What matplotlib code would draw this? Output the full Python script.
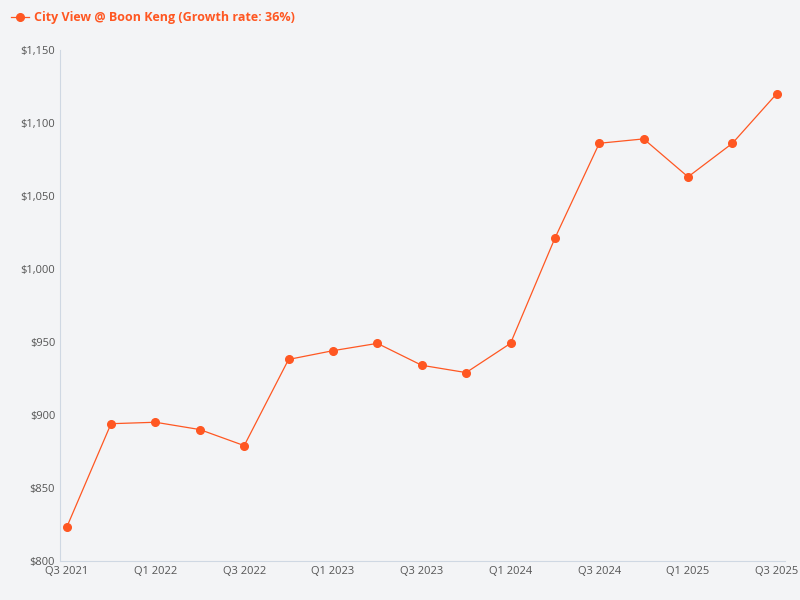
import matplotlib
matplotlib.use("Agg")
import matplotlib.pyplot as plt
from matplotlib.ticker import FuncFormatter

plt.rcParams['font.family'] = ['Open Sans', 'DejaVu Sans']

quarters = ["Q3 2021", "Q4 2021", "Q1 2022", "Q2 2022", "Q3 2022", "Q4 2022",
            "Q1 2023", "Q2 2023", "Q3 2023", "Q4 2023", "Q1 2024", "Q2 2024",
            "Q3 2024", "Q4 2024", "Q1 2025", "Q2 2025", "Q3 2025"]
prices = [823, 894, 895, 890, 879, 938, 944, 949, 934, 929, 949, 1021,
          1086, 1089, 1063, 1086, 1120]

color = "#ff5722"
bg = "#f3f4f6"

fig = plt.figure(figsize=(8, 6), dpi=100, facecolor=bg)
ax = fig.add_axes([0.075, 0.065, 0.906, 0.852], facecolor=bg)

x = list(range(len(quarters)))
ax.plot(x, prices, color=color, lw=0.9, marker='o', ms=5.5,
        label="City View @ Boon Keng (Growth rate: 36%)")

ax.set_ylim(800, 1150)
ax.set_xlim(-0.15, len(quarters) - 0.82)
ax.set_yticks(range(800, 1151, 50))
ax.yaxis.set_major_formatter(FuncFormatter(lambda v, p: "${:,.0f}".format(v)))
ax.set_xticks(x[::2])
ax.set_xticklabels(quarters[::2])
ax.tick_params(labelsize=8, colors="#555555", length=0)

for s in ["top", "right"]:
    ax.spines[s].set_visible(False)
for s in ["left", "bottom"]:
    ax.spines[s].set_color("#cfd8e3")

leg = fig.legend(loc="upper left", bbox_to_anchor=(0.0, 1.0), frameon=False,
                 handlelength=1.4, handletextpad=0.4,
                 prop={'weight': 'bold', 'size': 9})
for t in leg.get_texts():
    t.set_color(color)

fig.savefig("out.png", dpi=100, facecolor=bg)
